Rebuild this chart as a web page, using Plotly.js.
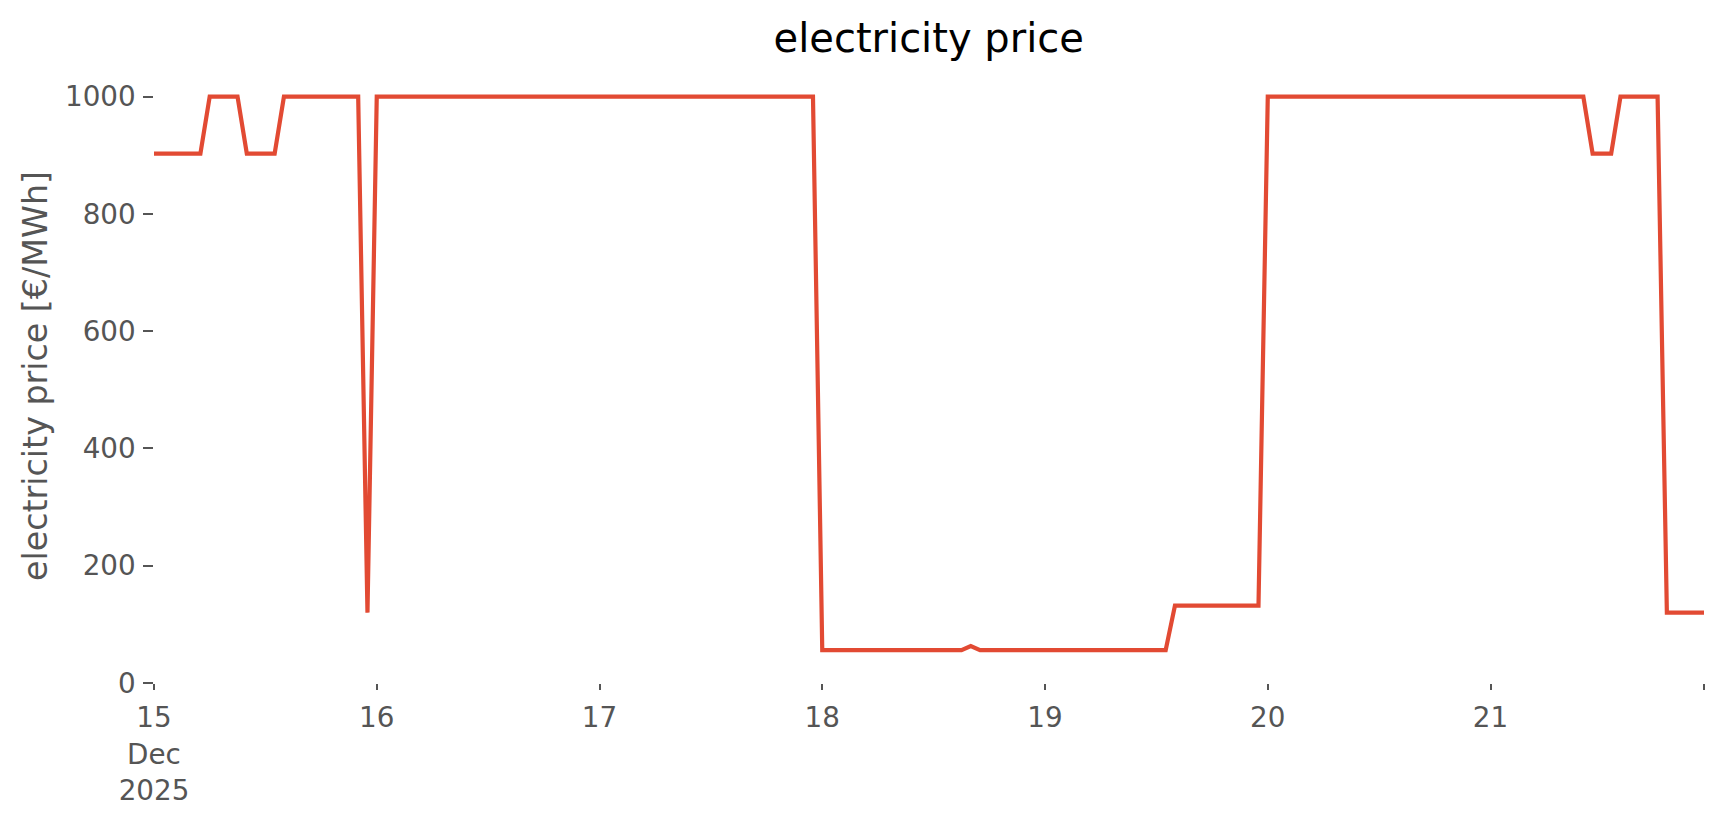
<!DOCTYPE html>
<html>
<head>
<meta charset="utf-8">
<script src="https://cdn.plot.ly/plotly-3.0.1.min.js"></script>
<style>html,body{margin:0;padding:0;background:#fff;}#chart{width:1724px;height:815px;}</style>
</head>
<body>
<div id="chart"></div>
<script>
// Hourly electricity price [€/MWh], one array per day (00:00 .. 23:00)
const startTime = "2025-12-15T00:00:00";
const dec15 = [903,903,903,903,903,903,1000,1000,1000,1000,903,903,903,903,1000,1000,1000,1000,1000,1000,1000,1000,1000,120];
const dec16 = [1000,1000,1000,1000,1000,1000,1000,1000,1000,1000,1000,1000,1000,1000,1000,1000,1000,1000,1000,1000,1000,1000,1000,1000];
const dec17 = [1000,1000,1000,1000,1000,1000,1000,1000,1000,1000,1000,1000,1000,1000,1000,1000,1000,1000,1000,1000,1000,1000,1000,1000];
const dec18 = [56,56,56,56,56,56,56,56,56,56,56,56,56,56,56,56,63,56,56,56,56,56,56,56];
const dec19 = [56,56,56,56,56,56,56,56,56,56,56,56,56,56,132,132,132,132,132,132,132,132,132,132];
const dec20 = [1000,1000,1000,1000,1000,1000,1000,1000,1000,1000,1000,1000,1000,1000,1000,1000,1000,1000,1000,1000,1000,1000,1000,1000];
const dec21 = [1000,1000,1000,1000,1000,1000,1000,1000,1000,1000,1000,903,903,903,1000,1000,1000,1000,1000,120,120,120,120,120];

const tickDates = ["2025-12-15","2025-12-16","2025-12-17","2025-12-18","2025-12-19","2025-12-20","2025-12-21","2025-12-21 23:00"];
const tickLabels = ["15<br>Dec<br>2025","16","17","18","19","20","21",""];
const yTicks = [0,200,400,600,800,1000];

const prices = [].concat(dec15, dec16, dec17, dec18, dec19, dec20, dec21);
const t0 = new Date(startTime + "Z").getTime();
function fmt(ms){ const d = new Date(ms); return d.toISOString().slice(0,19).replace("T"," "); }
const times = prices.map((_, i) => fmt(t0 + i * 3600000));

const font = "DejaVu Sans, sans-serif";
const trace = {
  x: times, y: prices, type: "scatter", mode: "lines",
  line: {color: "#E24A33", width: 4.2, shape: "linear"},
  hoverinfo: "skip"
};
const layout = {
  width: 1724, height: 815,
  margin: {l: 154, r: 20, t: 69, b: 132, pad: 0},
  paper_bgcolor: "#ffffff", plot_bgcolor: "#ffffff",
  showlegend: false,
  font: {family: font, color: "#555555", size: 27.8},
  title: {text: "electricity price", font: {family: font, size: 40, color: "#000000"},
          x: 0.5387, xanchor: "center", xref: "container", y: 1 - 52/815, yanchor: "bottom", yref: "container"},
  xaxis: {
    type: "date",
    range: [times[0], times[times.length - 1]],
    tickmode: "array", tickvals: tickDates, ticktext: tickLabels,
    ticks: "outside", ticklen: 6, tickwidth: 2, tickcolor: "#555555",
    tickfont: {family: font, size: 27.8, color: "#555555"},
    showgrid: false, zeroline: false, showline: false,
    ticklabelstandoff: 4
  },
  yaxis: {
    range: [0, 1047.2],
    tickmode: "array", tickvals: yTicks, ticktext: yTicks.map(String),
    ticks: "outside", ticklen: 9.7, tickwidth: 2, tickcolor: "#555555",
    tickfont: {family: font, size: 27.8, color: "#555555"},
    showgrid: false, zeroline: false, showline: false,
    ticklabelstandoff: 2,
    title: {text: "electricity price [€/MWh]", font: {family: font, size: 33.3, color: "#555555"}, standoff: 7}
  }
};
Plotly.newPlot("chart", [trace], layout, {displayModeBar: false, staticPlot: true});
</script>
</body>
</html>
